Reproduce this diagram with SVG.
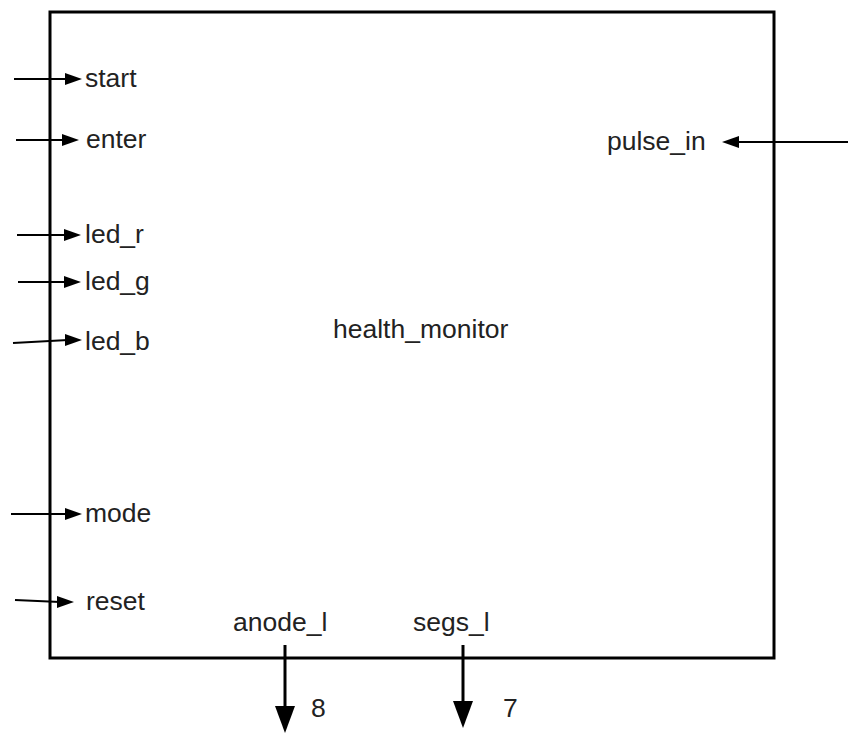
<svg xmlns="http://www.w3.org/2000/svg" width="848" height="733" viewBox="0 0 848 733">
  <style>
    .lbl { font-family: "Liberation Sans", Arial, sans-serif; font-size: 26.5px; fill: #222; }
    .wire { stroke: #000; stroke-width: 2; fill: none; }
    .bus { stroke: #000; stroke-width: 3; fill: none; }
    .head { fill: #000; }
  </style>
  <rect width="848" height="733" fill="#fff"/>

  <g id="health_monitor">
    <rect x="50" y="12" width="724" height="646" fill="none" stroke="#000" stroke-width="3"/>
    <text class="lbl" x="333" y="338">health_monitor</text>
  </g>

  <g id="port_labels">
    <text class="lbl" x="85" y="87">start</text>
    <text class="lbl" x="86" y="148">enter</text>
    <text class="lbl" x="85" y="243">led_r</text>
    <text class="lbl" x="85" y="290">led_g</text>
    <text class="lbl" x="85" y="350">led_b</text>
    <text class="lbl" x="85" y="522">mode</text>
    <text class="lbl" x="86" y="610">reset</text>
    <text class="lbl" x="607" y="150">pulse_in</text>
    <text class="lbl" x="233" y="631">anode_l</text>
    <text class="lbl" x="413" y="631">segs_l</text>
    <text class="lbl" x="311" y="717">8</text>
    <text class="lbl" x="503" y="717">7</text>
  </g>

  <g id="connectors">
    <!-- inputs on the left -->
    <line class="wire" x1="14" y1="79" x2="68" y2="79"/>
    <polygon class="head" points="82,79 65,73 65,85"/>
    <line class="wire" x1="16" y1="140" x2="65" y2="140"/>
    <polygon class="head" points="79,140 62,134 62,146"/>
    <line class="wire" x1="17" y1="235" x2="67" y2="235"/>
    <polygon class="head" points="81,235 64,229 64,241"/>
    <line class="wire" x1="18" y1="282" x2="67" y2="282"/>
    <polygon class="head" points="81,282 64,276 64,288"/>
    <line class="wire" x1="13" y1="343" x2="68" y2="340"/>
    <polygon class="head" points="82,340 65,334 65,346"/>
    <line class="wire" x1="11" y1="514" x2="68" y2="514"/>
    <polygon class="head" points="82,514 65,508 65,520"/>
    <line class="wire" x1="15" y1="600" x2="60" y2="602"/>
    <polygon class="head" points="74,602 57,596 57,608"/>
    <!-- input on the right -->
    <line class="wire" x1="848" y1="142" x2="736" y2="142"/>
    <polygon class="head" points="722,142 739,136 739,148"/>
    <!-- output buses at the bottom -->
    <line class="bus" x1="285" y1="645" x2="285" y2="710"/>
    <polygon class="head" points="285,733 275,706 295,706"/>
    <line class="bus" x1="463" y1="645" x2="463" y2="705"/>
    <polygon class="head" points="463,728 453,701 473,701"/>
  </g>
</svg>
